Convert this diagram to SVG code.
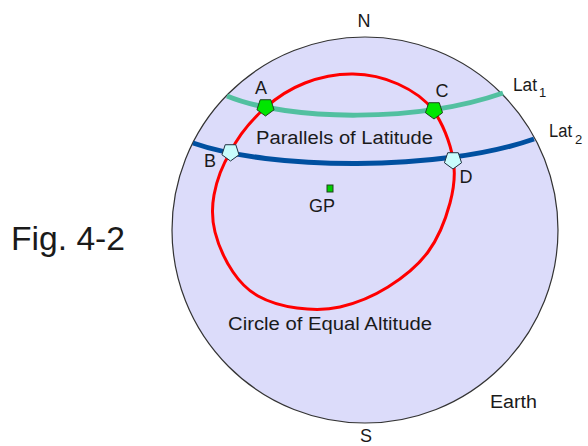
<svg xmlns="http://www.w3.org/2000/svg" width="588" height="446" viewBox="0 0 588 446">
<style>
text{font-family:"Liberation Sans",Arial,sans-serif;fill:#1a1a1a;font-size:18px}
.mid{text-anchor:middle}
.sub{font-size:13px}
.green{fill:#00e600;stroke:#204020;stroke-width:1}
.cyan{fill:#c8fcfc;stroke:#203040;stroke-width:1}
</style>
<defs>
<polygon id="pent" points="0,9 -8.56,2.78 -5.29,-7.28 5.29,-7.28 8.56,2.78"/>
</defs>
<rect width="588" height="446" fill="#ffffff"/>
<text x="11" y="250" font-size="34" textLength="114" lengthAdjust="spacingAndGlyphs" style="font-size:34px">Fig. 4-2</text>
<g id="earth">
<circle cx="365" cy="230" r="193" fill="#dcdcfa" stroke="#333333" stroke-width="1.2"/>
<text x="490" y="408" textLength="47" lengthAdjust="spacingAndGlyphs">Earth</text>
</g>
<g id="north"><text class="mid" x="364" y="27">N</text></g>
<g id="south"><text class="mid" x="366" y="442">S</text></g>
<g id="connectors" fill="none">
<path id="lat1" d="M227,96 C290,122 420,122 503,93" stroke="#52c0a0" stroke-width="5"/>
<path id="lat2" d="M193,143 C270,170 440,172 534,139" stroke="#0050a0" stroke-width="5"/>
<path id="equal-altitude" d="M353,74 C368.5,74.2 384.7,78 398,84 C411.3,90 423.8,97.7 433,110 C442.2,122.3 450.2,142.5 453,159 C455.8,173.5 454.2,187.3 450,203 C445.8,218.7 438.3,238 428,252 C417.7,266 402.7,277.8 388,287 C373.3,296.2 355.2,303.5 340,307 C324.8,310.5 310.7,309.8 297,308 C283.3,306.2 268.7,302 258,296 C247.3,290 240.2,282.7 233,272 C225.8,261.3 218.2,244.8 215,232 C211.8,219.2 211.5,208.7 214,195 C216.5,181.3 221.5,166.5 230.5,152 C238.5,135.5 252.5,119.2 265,108 C277.5,96.8 290.3,88.7 305,83 C319.7,77.3 337.5,73.8 353,74 Z" stroke="#ff0000" stroke-width="3"/>
</g>
<g id="lat1-label"><text x="513" y="91" textLength="24" lengthAdjust="spacingAndGlyphs">Lat</text><text class="sub" x="539" y="97">1</text></g>
<g id="lat2-label"><text x="549" y="137" textLength="23" lengthAdjust="spacingAndGlyphs">Lat</text><text class="sub" x="575" y="144">2</text></g>
<g id="parallels-label"><text x="256" y="144" textLength="177" lengthAdjust="spacingAndGlyphs">Parallels of Latitude</text></g>
<g id="circle-label"><text x="228" y="330" textLength="204" lengthAdjust="spacingAndGlyphs">Circle of Equal Altitude</text></g>
<g id="A"><use href="#pent" class="green" transform="translate(265.5,107)"/><text class="mid" x="261" y="94">A</text></g>
<g id="C"><use href="#pent" class="green" transform="translate(434,110)"/><text class="mid" x="442" y="97">C</text></g>
<g id="B"><use href="#pent" class="cyan" transform="translate(230.5,152)"/><text class="mid" x="210" y="167">B</text></g>
<g id="D"><use href="#pent" class="cyan" transform="translate(453,160)"/><text class="mid" x="466" y="183">D</text></g>
<g id="GP"><rect x="327" y="185" width="6" height="7" fill="#00d000" stroke="#204020" stroke-width="1"/><text class="mid" x="322" y="212">GP</text></g>
</svg>
